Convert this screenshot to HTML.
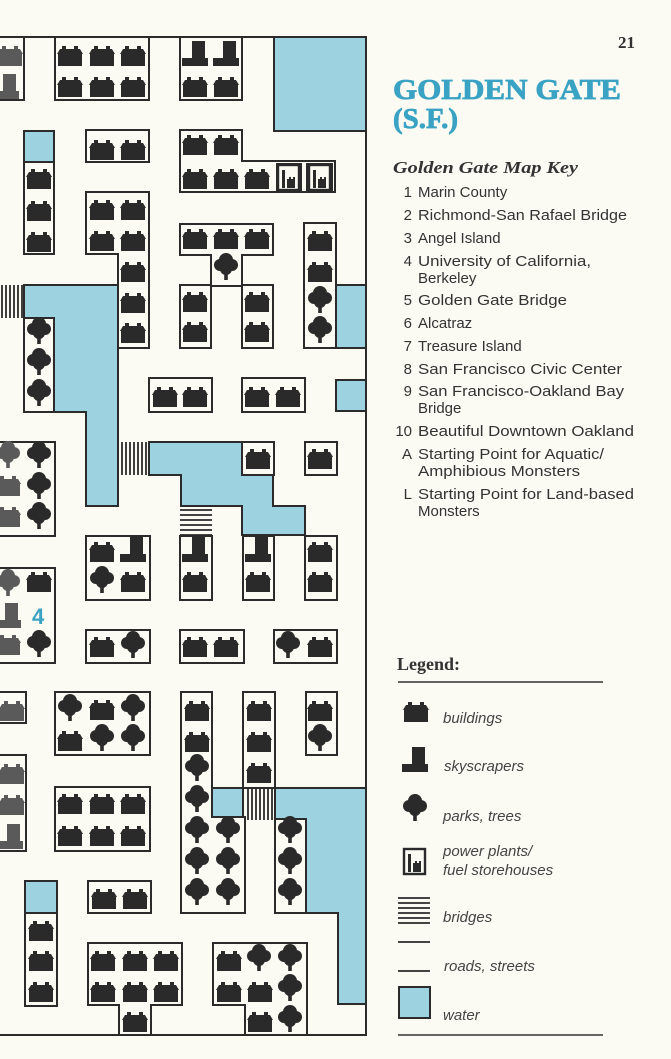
<!DOCTYPE html>
<html><head><meta charset="utf-8"><style>
html,body{margin:0;padding:0;background:#fbfaf3;}
svg{display:block;}
.b{fill:none;stroke:#2b2b2b;stroke-width:2;}
.w{fill:#9dd3e1;stroke:#2b2b2b;stroke-width:2;}
.k{font-family:"Liberation Sans",sans-serif;font-size:15px;fill:#333;}
.i{font-family:"Liberation Sans",sans-serif;font-size:15px;font-style:italic;fill:#444;}
</style></head><body>
<svg width="671" height="1059" viewBox="0 0 671 1059" xmlns="http://www.w3.org/2000/svg">
<defs>
<g id="h"><path d="M-13,-3 L-10,-8 L-8,-8 L-8,-11 L-4,-11 L-4,-8 L4,-8 L4,-11 L8,-11 L8,-8 L10,-8 L13,-3 L12,-3 L12,9 L-12,9 L-12,-3 Z" fill="#2a2a2a"/></g>
<g id="t"><g fill="#2a2a2a"><circle cx="0" cy="-7" r="7"/><circle cx="-6" cy="-2" r="6"/><circle cx="6" cy="-2" r="6"/><circle cx="0" cy="2" r="6"/><rect x="-1.8" y="3" width="3.6" height="10"/></g></g>
<g id="s"><path d="M-3,-13 H10 V4 H13 V12 H-13 V4 H-3 Z" fill="#2a2a2a"/></g>
<g id="p"><rect x="-10" y="-12" width="21" height="25" fill="none" stroke="#2a2a2a" stroke-width="2.4"/><rect x="-6" y="-7" width="3" height="18" fill="#2a2a2a"/><path d="M-1,11 V2 H1 V0 H3 V2 H5 V0 H7 V11 Z" fill="#2a2a2a"/></g>
<g id="hg"><path d="M-13,-3 L-10,-8 L-8,-8 L-8,-11 L-4,-11 L-4,-8 L4,-8 L4,-11 L8,-11 L8,-8 L10,-8 L13,-3 L12,-3 L12,9 L-12,9 L-12,-3 Z" fill="#5a5a5a"/></g>
<g id="tg"><g fill="#5a5a5a"><circle cx="0" cy="-7" r="7"/><circle cx="-6" cy="-2" r="6"/><circle cx="6" cy="-2" r="6"/><circle cx="0" cy="2" r="6"/><rect x="-1.8" y="3" width="3.6" height="10"/></g></g>
<g id="sg"><path d="M-3,-13 H10 V4 H13 V12 H-13 V4 H-3 Z" fill="#5a5a5a"/></g>
</defs>

<!-- water -->
<rect class="w" x="274" y="37" width="92" height="94"/>
<rect class="w" x="24" y="131" width="30" height="31"/>
<polygon class="w" points="24,285 118,285 118,506 86,506 86,412 54,412 54,318 24,318"/>
<rect class="w" x="336" y="285" width="30" height="63"/>
<rect class="w" x="336" y="380" width="30" height="31"/>
<polygon class="w" points="149,442 242,442 242,475 273,475 273,506 305,506 305,535 242,535 242,506 181,506 181,475 149,475"/>
<rect class="w" x="212" y="788" width="31" height="29"/>
<polygon class="w" points="275,788 366,788 366,1004 338,1004 338,913 306,913 306,819 275,819"/>
<rect class="w" x="25" y="881" width="32" height="32"/>

<!-- blocks -->
<rect class="b" x="-5" y="37" width="29" height="63"/>
<rect class="b" x="55" y="37" width="94" height="63"/>
<rect class="b" x="180" y="37" width="62" height="63"/>
<rect class="b" x="86" y="130" width="63" height="32"/>
<polygon class="b" points="180,130 242,130 242,161 335,161 335,192 180,192"/>
<rect class="b" x="277" y="164" width="24" height="26"/>
<rect class="b" x="307" y="164" width="25" height="26"/>
<rect class="b" x="24" y="162" width="30" height="92"/>
<polygon class="b" points="86,192 149,192 149,348 118,348 118,254 86,254"/>
<polygon class="b" points="180,224 273,224 273,255 242,255 242,286 211,286 211,255 180,255"/>
<rect class="b" x="180" y="285" width="31" height="63"/>
<rect class="b" x="242" y="285" width="31" height="63"/>
<rect class="b" x="304" y="223" width="32" height="125"/>
<rect class="b" x="24" y="318" width="30" height="94"/>
<rect class="b" x="149" y="378" width="63" height="34"/>
<rect class="b" x="242" y="378" width="63" height="34"/>
<rect class="b" x="-5" y="442" width="60" height="94"/>
<rect class="b" x="242" y="442" width="32" height="33"/>
<rect class="b" x="305" y="442" width="32" height="33"/>
<rect class="b" x="86" y="536" width="64" height="64"/>
<rect class="b" x="180" y="536" width="32" height="64"/>
<rect class="b" x="243" y="536" width="31" height="64"/>
<rect class="b" x="305" y="536" width="32" height="64"/>
<rect class="b" x="-5" y="568" width="60" height="95"/>
<rect class="b" x="86" y="630" width="64" height="33"/>
<rect class="b" x="180" y="630" width="64" height="33"/>
<rect class="b" x="274" y="630" width="63" height="33"/>
<rect class="b" x="-5" y="692" width="31" height="31"/>
<rect class="b" x="55" y="692" width="95" height="63"/>
<rect class="b" x="-5" y="755" width="31" height="96"/>
<rect class="b" x="55" y="787" width="95" height="64"/>
<polygon class="b" points="181,692 212,692 212,817 245,817 245,913 181,913"/>
<rect class="b" x="243" y="692" width="32" height="96"/>
<rect class="b" x="306" y="692" width="31" height="63"/>
<rect class="b" x="275" y="819" width="31" height="94"/>
<rect class="b" x="25" y="913" width="32" height="93"/>
<rect class="b" x="88" y="881" width="63" height="32"/>
<polygon class="b" points="88,943 182,943 182,1005 151,1005 151,1035 119,1035 119,1005 88,1005"/>
<polygon class="b" points="213,943 307,943 307,1035 245,1035 245,1005 213,1005"/>
<polyline class="b" points="-5,37 366,37 366,1035 -5,1035"/>

<!-- bridges -->
<g stroke="#2b2b2b" stroke-width="1.8">
<path d="M2,285V318M6,285V318M10,285V318M14,285V318M18,285V318M22,285V318"/>
<path d="M122,442V475M126,442V475M130,442V475M134,442V475M138,442V475M142,442V475M146,442V475"/>
<path d="M248,788V820M252,788V820M256,788V820M260,788V820M264,788V820M268,788V820M272,788V820"/>
<path d="M180,510H212M180,515H212M180,520H212M180,525H212M180,530H212M180,535H212"/>
</g>

<!-- icons -->
<use href="#hg" x="10" y="57"/><use href="#sg" x="6" y="87"/>
<use href="#h" x="70" y="57"/><use href="#h" x="102" y="57"/><use href="#h" x="133" y="57"/>
<use href="#h" x="70" y="88"/><use href="#h" x="102" y="88"/><use href="#h" x="133" y="88"/>
<use href="#s" x="195" y="54"/><use href="#s" x="226" y="54"/>
<use href="#h" x="195" y="88"/><use href="#h" x="226" y="88"/>
<use href="#h" x="102" y="151"/><use href="#h" x="133" y="151"/>
<use href="#h" x="195" y="146"/><use href="#h" x="226" y="146"/>
<use href="#h" x="195" y="180"/><use href="#h" x="226" y="180"/><use href="#h" x="257" y="180"/>
<use href="#p" x="288" y="177"/><use href="#p" x="319" y="177"/>
<use href="#h" x="39" y="180"/><use href="#h" x="39" y="212"/><use href="#h" x="39" y="243"/>
<use href="#h" x="102" y="211"/><use href="#h" x="133" y="211"/>
<use href="#h" x="102" y="242"/><use href="#h" x="133" y="242"/>
<use href="#h" x="133" y="273"/><use href="#h" x="133" y="304"/><use href="#h" x="133" y="334"/>
<use href="#h" x="195" y="240"/><use href="#h" x="226" y="240"/><use href="#h" x="257" y="240"/>
<use href="#t" x="226" y="267"/>
<use href="#h" x="195" y="303"/><use href="#h" x="195" y="333"/>
<use href="#h" x="257" y="303"/><use href="#h" x="257" y="333"/>
<use href="#h" x="320" y="242"/><use href="#h" x="320" y="273"/>
<use href="#t" x="320" y="300"/><use href="#t" x="320" y="330"/>
<use href="#t" x="39" y="331"/><use href="#t" x="39" y="362"/><use href="#t" x="39" y="393"/>
<use href="#h" x="165" y="398"/><use href="#h" x="195" y="398"/>
<use href="#h" x="257" y="398"/><use href="#h" x="288" y="398"/>
<use href="#h" x="258" y="460"/><use href="#h" x="320" y="460"/>
<use href="#tg" x="8" y="455"/><use href="#t" x="39" y="455"/>
<use href="#hg" x="8" y="487"/><use href="#t" x="39" y="486"/>
<use href="#hg" x="8" y="518"/><use href="#t" x="39" y="516"/>
<use href="#h" x="102" y="553"/><use href="#s" x="133" y="550"/>
<use href="#t" x="102" y="580"/><use href="#h" x="133" y="583"/>
<use href="#s" x="195" y="550"/><use href="#h" x="195" y="583"/>
<use href="#s" x="258" y="550"/><use href="#h" x="258" y="583"/>
<use href="#h" x="320" y="553"/><use href="#h" x="320" y="583"/>
<use href="#tg" x="8" y="583"/><use href="#h" x="39" y="583"/>
<use href="#sg" x="8" y="616"/>
<text x="32" y="624" font-family="Liberation Sans,sans-serif" font-weight="bold" font-size="22" fill="#3aa3c4">4</text>
<use href="#hg" x="8" y="646"/><use href="#t" x="39" y="644"/>
<use href="#h" x="102" y="648"/><use href="#t" x="133" y="645"/>
<use href="#h" x="195" y="648"/><use href="#h" x="226" y="648"/>
<use href="#t" x="288" y="645"/><use href="#h" x="320" y="648"/>
<use href="#hg" x="12" y="712"/>
<use href="#t" x="70" y="708"/><use href="#h" x="102" y="711"/><use href="#t" x="133" y="708"/>
<use href="#h" x="70" y="742"/><use href="#t" x="102" y="738"/><use href="#t" x="133" y="738"/>
<use href="#hg" x="12" y="775"/><use href="#hg" x="12" y="806"/><use href="#sg" x="10" y="837"/>
<use href="#h" x="70" y="805"/><use href="#h" x="102" y="805"/><use href="#h" x="133" y="805"/>
<use href="#h" x="70" y="837"/><use href="#h" x="102" y="837"/><use href="#h" x="133" y="837"/>
<use href="#h" x="197" y="712"/><use href="#h" x="197" y="743"/>
<use href="#t" x="197" y="768"/><use href="#t" x="197" y="799"/><use href="#t" x="197" y="830"/>
<use href="#t" x="197" y="861"/><use href="#t" x="197" y="892"/>
<use href="#t" x="228" y="830"/><use href="#t" x="228" y="861"/><use href="#t" x="228" y="892"/>
<use href="#h" x="259" y="712"/><use href="#h" x="259" y="743"/><use href="#h" x="259" y="774"/>
<use href="#h" x="320" y="712"/><use href="#t" x="320" y="738"/>
<use href="#t" x="290" y="830"/><use href="#t" x="290" y="861"/><use href="#t" x="290" y="892"/>
<use href="#h" x="104" y="900"/><use href="#h" x="135" y="900"/>
<use href="#h" x="41" y="932"/><use href="#h" x="41" y="962"/><use href="#h" x="41" y="993"/>
<use href="#h" x="103" y="962"/><use href="#h" x="135" y="962"/><use href="#h" x="166" y="962"/>
<use href="#h" x="103" y="993"/><use href="#h" x="135" y="993"/><use href="#h" x="166" y="993"/>
<use href="#h" x="135" y="1023"/>
<use href="#h" x="229" y="962"/><use href="#t" x="259" y="958"/><use href="#t" x="290" y="958"/>
<use href="#h" x="229" y="993"/><use href="#h" x="260" y="993"/><use href="#t" x="290" y="988"/>
<use href="#h" x="260" y="1023"/><use href="#t" x="290" y="1019"/>

<!-- right side -->
<text x="618" y="48" font-family="Liberation Serif,serif" font-weight="bold" font-size="17" fill="#333">21</text>
<text x="393" y="99" font-family="Liberation Serif,serif" font-weight="bold" font-size="29" fill="#3aa3c4" stroke="#3aa3c4" stroke-width="0.8" textLength="228" lengthAdjust="spacingAndGlyphs">GOLDEN GATE</text>
<text x="393" y="128" font-family="Liberation Serif,serif" font-weight="bold" font-size="29" fill="#3aa3c4" stroke="#3aa3c4" stroke-width="0.8">(S.F.)</text>
<text x="393" y="173" font-family="Liberation Serif,serif" font-weight="bold" font-style="italic" font-size="17" fill="#333" textLength="185" lengthAdjust="spacingAndGlyphs">Golden Gate Map Key</text>
<g class="k" text-anchor="end">
<text x="412" y="197">1</text><text x="412" y="220">2</text><text x="412" y="243">3</text><text x="412" y="266">4</text>
<text x="412" y="305">5</text><text x="412" y="328">6</text><text x="412" y="351">7</text><text x="412" y="374">8</text>
<text x="412" y="396">9</text><text x="412" y="436">10</text><text x="412" y="459">A</text><text x="412" y="499">L</text>
</g>
<g class="k">
<text x="418" y="197">Marin County</text>
<text x="418" y="220" textLength="209" lengthAdjust="spacingAndGlyphs">Richmond-San Rafael Bridge</text>
<text x="418" y="243">Angel Island</text>
<text x="418" y="266" textLength="173" lengthAdjust="spacingAndGlyphs">University of California,</text>
<text x="418" y="283">Berkeley</text>
<text x="418" y="305" textLength="149" lengthAdjust="spacingAndGlyphs">Golden Gate Bridge</text>
<text x="418" y="328">Alcatraz</text>
<text x="418" y="351">Treasure Island</text>
<text x="418" y="374" textLength="204" lengthAdjust="spacingAndGlyphs">San Francisco Civic Center</text>
<text x="418" y="396" textLength="206" lengthAdjust="spacingAndGlyphs">San Francisco-Oakland Bay</text>
<text x="418" y="413">Bridge</text>
<text x="418" y="436" textLength="216" lengthAdjust="spacingAndGlyphs">Beautiful Downtown Oakland</text>
<text x="418" y="459" textLength="186" lengthAdjust="spacingAndGlyphs">Starting Point for Aquatic/</text>
<text x="418" y="476" textLength="162" lengthAdjust="spacingAndGlyphs">Amphibious Monsters</text>
<text x="418" y="499" textLength="216" lengthAdjust="spacingAndGlyphs">Starting Point for Land-based</text>
<text x="418" y="516">Monsters</text>
</g>
<text x="397" y="670" font-family="Liberation Serif,serif" font-weight="bold" font-size="18" fill="#333">Legend:</text>
<line x1="398" y1="682" x2="603" y2="682" stroke="#333" stroke-width="1.5"/>
<use href="#h" x="416" y="713"/>
<text class="i" x="443" y="723">buildings</text>
<use href="#s" x="415" y="760"/>
<text class="i" x="444" y="771">skyscrapers</text>
<use href="#t" x="415" y="808"/>
<text class="i" x="443" y="821">parks, trees</text>
<use href="#p" x="414" y="861"/>
<text class="i" x="443" y="856">power plants/</text>
<text class="i" x="443" y="875">fuel storehouses</text>
<path d="M398,898H430M398,903H430M398,908H430M398,913H430M398,918H430M398,923H430M398,942H430M398,971H430" stroke="#2b2b2b" stroke-width="1.8"/>
<text class="i" x="443" y="922">bridges</text>
<text class="i" x="444" y="971">roads, streets</text>
<rect class="w" x="399" y="987" width="31" height="31"/>
<text class="i" x="443" y="1020">water</text>
<line x1="398" y1="1035" x2="603" y2="1035" stroke="#333" stroke-width="1.5"/>
</svg>
</body></html>
